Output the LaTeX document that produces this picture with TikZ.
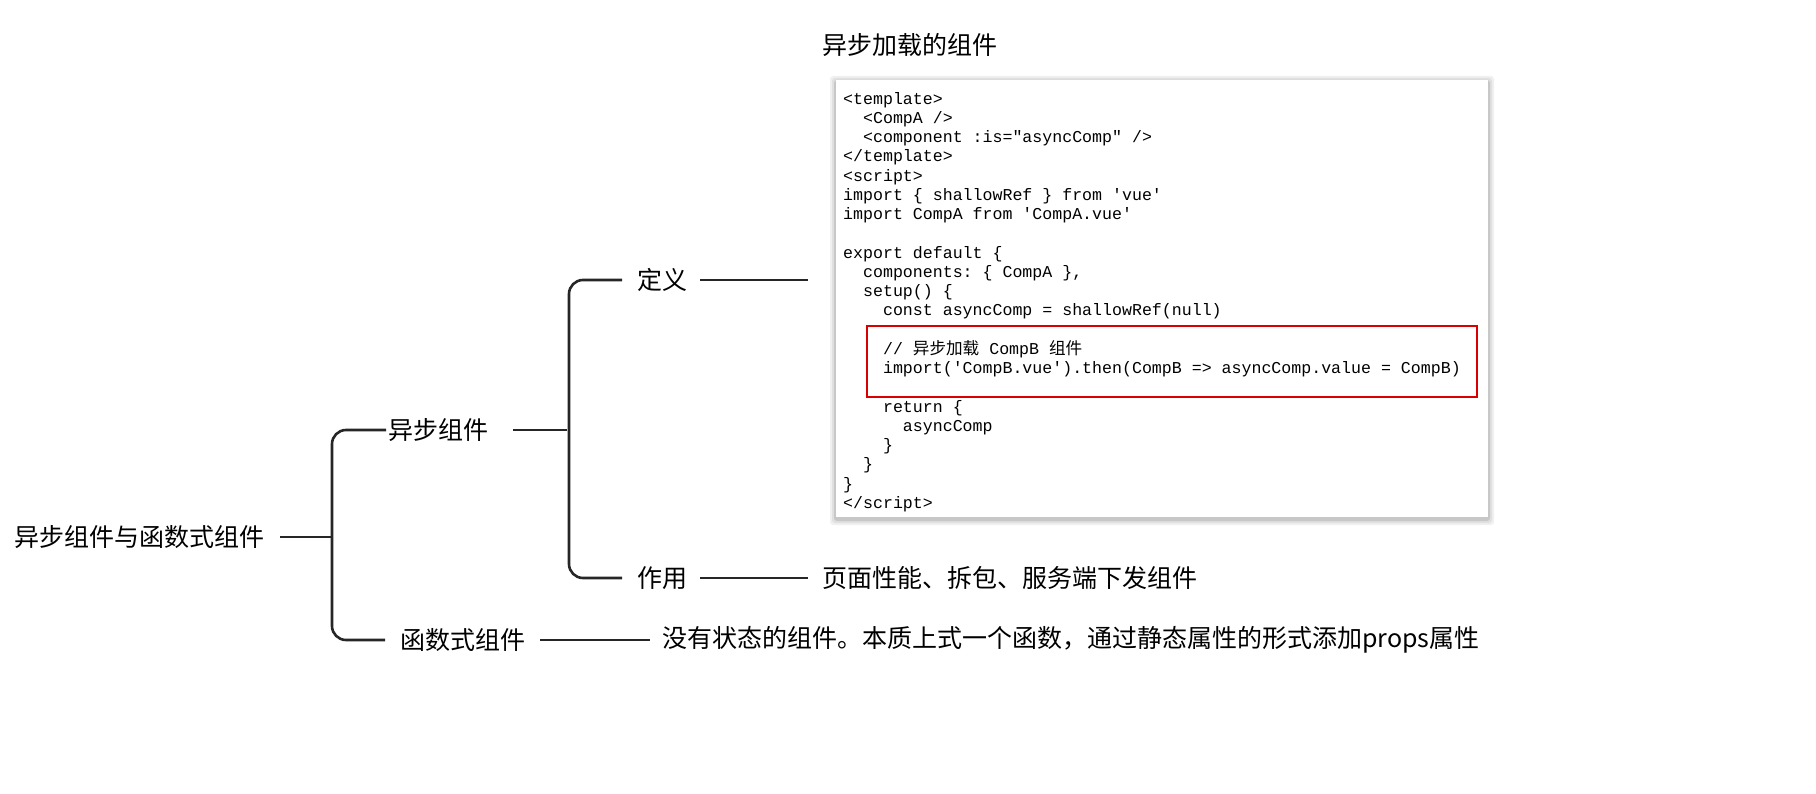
\documentclass[tikz,border=0pt]{standalone}
\usepackage{fontspec}
\setmainfont{Noto Sans CJK SC}
\setmonofont{Liberation Mono}
\newfontfamily\cjk{Noto Sans CJK SC}
\usetikzlibrary{positioning}
\newcommand{\ind}[1]{\hspace*{#1\dimexpr 0.6em\relax}}
\tikzset{
  lbl/.style={inner sep=0pt, anchor=west, font=\fontsize{25}{30}\selectfont},
  branch/.style={line width=2.6pt, draw=black!85, rounded corners=14pt},
  codeline/.style={inner sep=0pt, anchor=north west, align=left,
    font=\ttfamily\fontsize{16.6}{19.25}\selectfont}
}
\begin{document}
\begin{tikzpicture}[x=1pt,y=-1pt]
\useasboundingbox (0,0) rectangle (1816,794);
% code box with a soft shadow
\foreach \s/\c in {6/black!6,4/black!12,2/black!22}
  \fill[\c, rounded corners=3pt] (836-\s,80-\s+2) rectangle (1488+\s,517+\s+2);
\fill[white] (836,80) rectangle (1488,517);
\node (code) [codeline] at (843,92) {%
<template>\\
\ind{2}<CompA />\\
\ind{2}<component :is="asyncComp" />\\
</template>\\
<script>\\
import \{ shallowRef \} from 'vue'\\
import CompA from 'CompA.vue'\\
\mbox{}\\
export default \{\\
\ind{2}components: \{ CompA \},\\
\ind{2}setup() \{\\
\ind{4}const asyncComp = shallowRef(null)\\
\mbox{}\\
\ind{4}// {\cjk 异步加载} CompB {\cjk 组件}\\
\ind{4}import('CompB.vue').then(CompB => asyncComp.value = CompB)\\
\mbox{}\\
\ind{4}return \{\\
\ind{6}asyncComp\\
\ind{4}\}\\
\ind{2}\}\\
\}\\
</script>};
\draw[red!85!black, line width=1.8pt] (867,326) rectangle (1477,397);
\coordinate (codein) at (808,280);

% tree labels
\node (title) [lbl] at (822,45) {异步加载的组件};
\node (root) [lbl] at (14,537) {异步组件与函数式组件};
\node (async) [lbl] at (388,430) {异步组件};
\node (func) [lbl] at (400,640) {函数式组件};
\node (def) [lbl] at (637,280) {定义};
\node (use) [lbl] at (637,578) {作用};
\node (usetxt) [lbl] at (822,578) {页面性能、拆包、服务端下发组件};
\node (functxt) [lbl] at (662,640) {没有状态的组件。本质上式一个函数，通过静态属性的形式添加props属性};

% connectors
\draw[branch] ([xshift=16pt]root.east) -- ++(52,0);
\draw[branch] (385,430) -- (372,430) -| (332,537) |- (385,640);
\draw[branch] ([xshift=25pt]async.east) -- ++(54,0);
\draw[branch] (622,280) -| (569,430) |- (622,578);
\draw[branch] ([xshift=13pt]def.east) -- (codein);
\draw[branch] ([xshift=13pt]use.east) -- ([xshift=-14pt]usetxt.west);
\draw[branch] ([xshift=15pt]func.east) -- ([xshift=-12pt]functxt.west);
\end{tikzpicture}
\end{document}
